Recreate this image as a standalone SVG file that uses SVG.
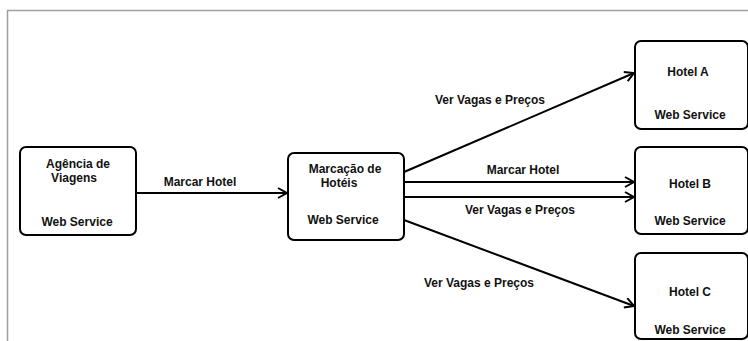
<svg xmlns="http://www.w3.org/2000/svg" width="748" height="341" viewBox="0 0 748 341">
<defs>
<style>
.box{fill:#fff;stroke:#000;stroke-width:2}
.t{font-family:"Liberation Sans",Arial,sans-serif;font-weight:bold;font-size:12px;fill:#111;text-anchor:middle}
.c{stroke:#000;stroke-width:2;fill:none}
</style>
<marker id="ah" markerWidth="12" markerHeight="12" refX="10" refY="6" orient="auto" markerUnits="userSpaceOnUse">
<path d="M1,1 L10,6 L1,11" fill="none" stroke="#000" stroke-width="2"/>
</marker>
</defs>
<rect width="748" height="341" fill="#fff"/>
<path d="M7.5,341 V10.5 H748" fill="none" stroke="#a0a0a0" stroke-width="1.5"/>
<g id="connectors">
<line class="c" x1="136" y1="193" x2="287" y2="193" marker-end="url(#ah)"/>
<text class="t" x="200" y="186">Marcar Hotel</text>
<line class="c" x1="404" y1="172" x2="634" y2="73" marker-end="url(#ah)"/>
<text class="t" x="490" y="104">Ver Vagas e Preços</text>
<line class="c" x1="404" y1="182" x2="634" y2="182" marker-end="url(#ah)"/>
<text class="t" x="523" y="174">Marcar Hotel</text>
<line class="c" x1="404" y1="197" x2="634" y2="197" marker-end="url(#ah)"/>
<text class="t" x="520" y="214">Ver Vagas e Preços</text>
<line class="c" x1="404" y1="220" x2="634" y2="306" marker-end="url(#ah)"/>
<text class="t" x="479" y="287">Ver Vagas e Preços</text>
</g>
<g id="agencia">
<rect class="box" x="20" y="147" width="116" height="88" rx="6"/>
<text class="t" x="78" y="168">Agência de</text>
<text class="t" x="74" y="182">Viagens</text>
<text class="t" x="77" y="226">Web Service</text>
</g>
<g id="marcacao">
<rect class="box" x="288" y="153" width="116" height="87" rx="6"/>
<text class="t" x="345" y="173">Marcação de</text>
<text class="t" x="339" y="187">Hotéis</text>
<text class="t" x="343" y="224">Web Service</text>
</g>
<g id="hotelA">
<rect class="box" x="635" y="41" width="113" height="88" rx="6"/>
<text class="t" x="688" y="76">Hotel A</text>
<text class="t" x="690" y="119">Web Service</text>
</g>
<g id="hotelB">
<rect class="box" x="635" y="147" width="113" height="87" rx="6"/>
<text class="t" x="690" y="188">Hotel B</text>
<text class="t" x="690" y="225">Web Service</text>
</g>
<g id="hotelC">
<rect class="box" x="635" y="253" width="113" height="86" rx="6"/>
<text class="t" x="690" y="296">Hotel C</text>
<text class="t" x="690" y="334">Web Service</text>
</g>
</svg>
